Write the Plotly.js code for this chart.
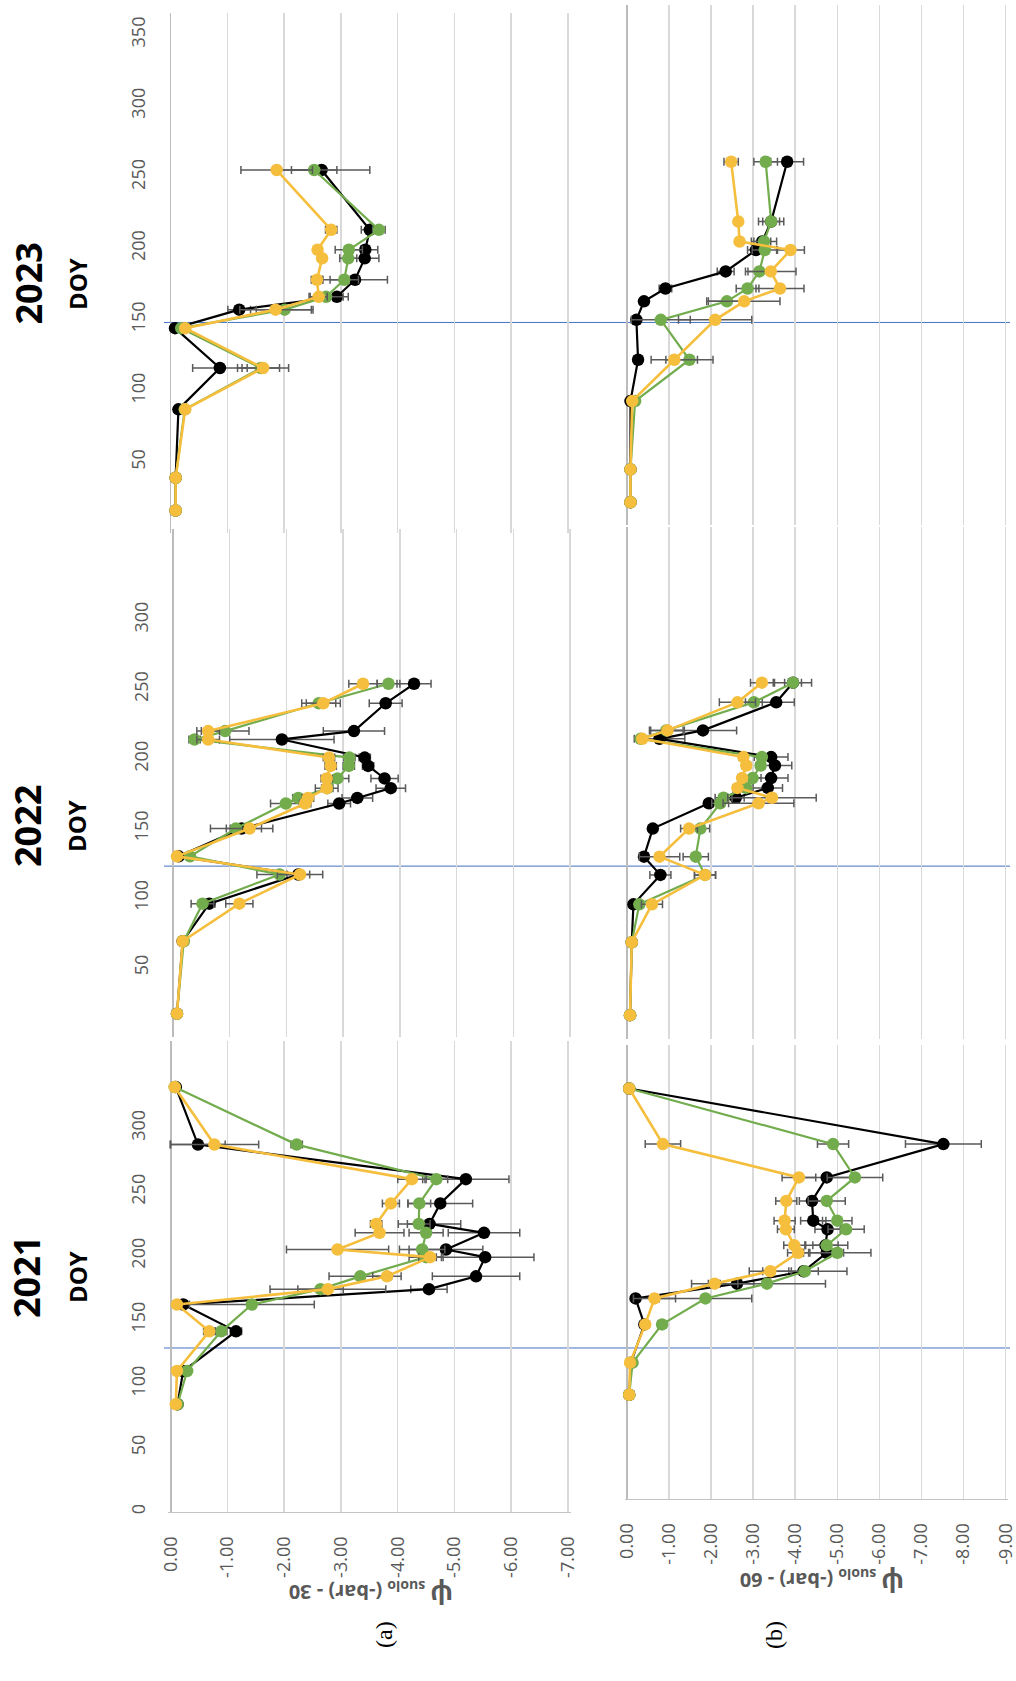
<!DOCTYPE html>
<html>
<head>
<meta charset="utf-8">
<script src="https://cdn.plot.ly/plotly-3.0.1.min.js"></script>
<style>html,body{margin:0;padding:0;background:#fff;}#chart{width:1016px;height:1681px;}</style>
</head>
<body>
<div id="chart"></div>
<script>
// ---------------- DATA ----------------
// Sampling dates (day of year)
const DOY_2023 = [16, 39, 87, 116, 144, 157, 166, 178, 193, 199, 213, 255];
const DOY_2022 = [17, 69, 96, 117, 130, 150, 168, 172, 179, 186, 195, 201, 214, 220, 240, 254];
const DOY_2021 = [84, 110, 141, 162, 174, 184, 199, 205, 218, 225, 241, 260, 287, 332];

// Soil water potential at 30 cm (bar), panel (a)
const PSI30_2023_BLACK  = [-0.09, -0.09, -0.14, -0.87, -0.08, -1.21, -2.93, -3.25, -3.42, -3.43, -3.51, -2.66];
const PSI30_2023_GREEN  = [-0.09, -0.09, -0.25, -1.59, -0.19, -2.01, -2.74, -3.06, -3.13, -3.14, -3.67, -2.53];
const PSI30_2023_YELLOW = [-0.09, -0.09, -0.26, -1.63, -0.26, -1.85, -2.61, -2.58, -2.67, -2.59, -2.83, -1.87];
const ERR30_2023_BLACK  = [0, 0, 0.05, 0.48, 0.03, 0.20, 0.20, 0.57, 0.25, 0.22, 0.15, 0.85];
const ERR30_2023_GREEN  = [0, 0, 0.05, 0.33, 0.03, 0.50, 0.30, 0.25, 0.15, 0.24, 0.11, 0.40];
const ERR30_2023_YELLOW = [0, 0, 0.05, 0.45, 0.03, 0.63, 0.15, 0.10, 0.05, 0.05, 0.10, 0.63];

const PSI30_2022_BLACK  = [-0.07, -0.17, -0.64, -2.21, -0.10, -1.21, -2.93, -3.25, -3.84, -3.73, -3.44, -3.38, -1.92, -3.19, -3.75, -4.25];
const PSI30_2022_GREEN  = [-0.07, -0.19, -0.52, -1.88, -0.30, -1.11, -1.99, -2.21, -2.72, -2.90, -3.10, -3.11, -0.38, -0.92, -2.57, -3.80];
const PSI30_2022_YELLOW = [-0.07, -0.17, -1.17, -2.24, -0.07, -1.35, -2.33, -2.38, -2.71, -2.71, -2.78, -2.75, -0.62, -0.62, -2.65, -3.35];
const ERR30_2022_BLACK  = [0, 0.05, 0.10, 0.20, 0.03, 0.20, 0.20, 0.27, 0.26, 0.24, 0.10, 0.10, 0.92, 0.54, 0.29, 0.30];
const ERR30_2022_GREEN  = [0, 0.03, 0.20, 0.40, 0.05, 0.45, 0.27, 0.10, 0.10, 0.20, 0.10, 0.10, 0.10, 0.42, 0.30, 0.20];
const ERR30_2022_YELLOW = [0, 0.03, 0.24, 0.40, 0.03, 0.41, 0.10, 0.10, 0.20, 0.10, 0.10, 0.10, 0.20, 0.20, 0.30, 0.25];

const PSI30_2021_BLACK  = [-0.12, -0.22, -1.15, -0.22, -4.55, -5.38, -5.54, -4.85, -5.52, -4.56, -4.75, -5.20, -0.48, -0.09];
const PSI30_2021_GREEN  = [-0.12, -0.29, -0.89, -1.43, -2.64, -3.34, -4.50, -4.43, -4.50, -4.37, -4.38, -4.68, -2.22, -0.07];
const PSI30_2021_YELLOW = [-0.09, -0.11, -0.68, -0.11, -2.77, -3.81, -4.57, -2.94, -3.68, -3.62, -3.88, -4.25, -0.77, -0.07];
const ERR30_2021_BLACK  = [0, 0.05, 0.10, 0.05, 0.32, 0.77, 0.86, 0.65, 0.63, 0.55, 0.57, 0.76, 0.48, 0];
const ERR30_2021_GREEN  = [0, 0.05, 0.10, 1.10, 0.40, 0.55, 0.30, 0.40, 0.30, 0.20, 0.20, 0.20, 0.10, 0];
const ERR30_2021_YELLOW = [0, 0.05, 0.10, 0.05, 1.02, 0.25, 0.20, 0.90, 0.43, 0.10, 0.15, 0.25, 0.78, 0];

// Soil water potential at 60 cm (bar), panel (b)
const PSI60_2023_BLACK  = [-0.09, -0.09, -0.09, -0.27, -0.23, -0.41, -0.92, -2.35, -3.07, -3.22, -3.43, -3.81];
const PSI60_2023_GREEN  = [-0.09, -0.09, -0.20, -1.49, -0.81, -2.38, -2.87, -3.15, -3.28, -3.26, -3.43, -3.30];
const PSI60_2023_YELLOW = [-0.09, -0.09, -0.13, -1.13, -2.10, -2.79, -3.64, -3.42, -3.89, -2.68, -2.65, -2.48];
const ERR60_2023_BLACK  = [0, 0, 0.03, 0.05, 0.05, 0.05, 0.15, 0.20, 0.20, 0.20, 0.20, 0.39];
const ERR60_2023_GREEN  = [0, 0, 0.03, 0.56, 0.70, 0.48, 0.27, 0.27, 0.30, 0.30, 0.30, 0.28];
const ERR60_2023_YELLOW = [0, 0, 0.03, 0.55, 0.87, 0.85, 0.57, 0.60, 0.33, 0.05, 0.05, 0.17];

const PSI60_2022_BLACK  = [-0.08, -0.12, -0.16, -0.80, -0.41, -0.62, -1.95, -2.59, -3.35, -3.43, -3.52, -3.43, -0.78, -1.81, -3.55, -3.95];
const PSI60_2022_GREEN  = [-0.08, -0.12, -0.30, -1.86, -1.64, -1.75, -2.22, -2.30, -2.84, -2.99, -3.18, -3.21, -0.33, -0.94, -3.02, -3.95];
const PSI60_2022_YELLOW = [-0.08, -0.12, -0.60, -1.86, -0.78, -1.48, -3.13, -3.45, -2.63, -2.74, -2.84, -2.77, -0.37, -0.97, -2.63, -3.21];
const ERR60_2022_BLACK  = [0, 0, 0.05, 0.25, 0.10, 0.05, 0.10, 0.20, 0.35, 0.40, 0.40, 0.40, 0.60, 0.80, 0.43, 0.20];
const ERR60_2022_GREEN  = [0, 0, 0.05, 0.25, 0.30, 0.22, 0.20, 0.20, 0.10, 0.20, 0.10, 0.10, 0.05, 0.40, 0.20, 0.44];
const ERR60_2022_YELLOW = [0, 0, 0.25, 0.25, 0.48, 0.20, 0.84, 1.05, 0.10, 0.10, 0.10, 0.10, 0.05, 0.40, 0.43, 0.27];

const PSI60_2021_BLACK  = [-0.06, -0.10, -0.42, -0.21, -2.62, -4.20, -4.75, -4.72, -4.77, -4.43, -4.40, -4.75, -7.52, -0.06];
const PSI60_2021_GREEN  = [-0.06, -0.14, -0.84, -1.87, -3.33, -4.23, -5.00, -4.75, -5.21, -5.00, -4.75, -5.42, -4.90, -0.06];
const PSI60_2021_YELLOW = [-0.06, -0.08, -0.44, -0.66, -2.09, -3.41, -4.07, -3.98, -3.78, -3.75, -3.79, -4.09, -0.86, -0.06];
const ERR60_2021_BLACK  = [0, 0.03, 0.10, 0.05, 0.40, 0.35, 0.40, 0.30, 0.30, 0.30, 0.30, 0.60, 0.90, 0];
const ERR60_2021_GREEN  = [0, 0.03, 0.10, 1.10, 1.39, 1.00, 0.80, 0.50, 0.43, 0.35, 0.44, 0.66, 0.37, 0];
const ERR60_2021_YELLOW = [0, 0.03, 0.10, 0.50, 0.55, 0.50, 0.25, 0.25, 0.20, 0.25, 0.25, 0.40, 0.42, 0];

// Reference DOY marked by the blue horizontal line, per year
const MARK_DOY_2023 = 148;
const MARK_DOY_2022 = 123;
const MARK_DOY_2021 = 128;

// Tick values and labels
const PSI30_TICKS  = [0, -1, -2, -3, -4, -5, -6, -7];
const PSI30_LABELS = ["0.00", "-1.00", "-2.00", "-3.00", "-4.00", "-5.00", "-6.00", "-7.00"];
const PSI60_TICKS  = [0, -1, -2, -3, -4, -5, -6, -7, -8, -9];
const PSI60_LABELS = ["0.00", "-1.00", "-2.00", "-3.00", "-4.00", "-5.00", "-6.00", "-7.00", "-8.00", "-9.00"];
const DOY_TICKS_2023 = [50, 100, 150, 200, 250, 300, 350];
const DOY_TICKS_2022 = [50, 100, 150, 200, 250, 300];
const DOY_TICKS_2021 = [0, 50, 100, 150, 200, 250, 300];

const YEARS = ["2023", "2022", "2021"];
const DOY_TITLE = "DOY";
const TITLE_A = "<b><span style=\"font-size:27px\">ψ</span> <sub>suolo</sub> (-bar) - 30</b>";
const TITLE_B = "<b><span style=\"font-size:27px\">ψ</span> <sub>suolo</sub> (-bar) - 60</b>";
const LABEL_A = "(a)";
const LABEL_B = "(b)";

// ---------------- LAYOUT HELPERS ----------------
const W = 1016, H = 1681;
const fx = p => p / W;
const fy = p => 1 - p / H;

const COLORS = {black: '#000000', green: '#72AC4D', yellow: '#F5BE3D'};
const ERRCOL = '#5a5a5a';

const PAD = 0.05;
const panels = [
  {xa:'x',  ya:'y',  psiTicks:PSI30_TICKS, psiLabels:PSI30_LABELS, psiMin:-7, xpx:[170.5,568],  ypx:[13.3,533.3],  doyMax:365, doyTicks:DOY_TICKS_2023, showDoy:true,  showPsi:false,
   doy:DOY_2023, s:[PSI30_2023_BLACK,PSI30_2023_GREEN,PSI30_2023_YELLOW], e:[ERR30_2023_BLACK,ERR30_2023_GREEN,ERR30_2023_YELLOW]},
  {xa:'x2', ya:'y2', psiTicks:PSI60_TICKS, psiLabels:PSI60_LABELS, psiMin:-9, xpx:[626.7,1005.7], ypx:[5,525],      doyMax:365, doyTicks:DOY_TICKS_2023, showDoy:false, showPsi:false,
   doy:DOY_2023, s:[PSI60_2023_BLACK,PSI60_2023_GREEN,PSI60_2023_YELLOW], e:[ERR60_2023_BLACK,ERR60_2023_GREEN,ERR60_2023_YELLOW]},
  {xa:'x3', ya:'y3', psiTicks:PSI30_TICKS, psiLabels:PSI30_LABELS, psiMin:-7, xpx:[173,570],    ypx:[529.3,1037.3], doyMax:365, doyTicks:DOY_TICKS_2022, showDoy:true,  showPsi:false,
   doy:DOY_2022, s:[PSI30_2022_BLACK,PSI30_2022_GREEN,PSI30_2022_YELLOW], e:[ERR30_2022_BLACK,ERR30_2022_GREEN,ERR30_2022_YELLOW]},
  {xa:'x4', ya:'y4', psiTicks:PSI60_TICKS, psiLabels:PSI60_LABELS, psiMin:-9, xpx:[626.7,1005.7], ypx:[527,1039],  doyMax:365, doyTicks:DOY_TICKS_2022, showDoy:false, showPsi:false,
   doy:DOY_2022, s:[PSI60_2022_BLACK,PSI60_2022_GREEN,PSI60_2022_YELLOW], e:[ERR60_2022_BLACK,ERR60_2022_GREEN,ERR60_2022_YELLOW]},
  {xa:'x5', ya:'y5', psiTicks:PSI30_TICKS, psiLabels:PSI30_LABELS, psiMin:-7, xpx:[170.7,568],  ypx:[1041,1511.7],  doyMax:368, doyTicks:DOY_TICKS_2021, showDoy:true,  showPsi:true,
   doy:DOY_2021, s:[PSI30_2021_BLACK,PSI30_2021_GREEN,PSI30_2021_YELLOW], e:[ERR30_2021_BLACK,ERR30_2021_GREEN,ERR30_2021_YELLOW]},
  {xa:'x6', ya:'y6', psiTicks:PSI60_TICKS, psiLabels:PSI60_LABELS, psiMin:-9, xpx:[626.7,1005.7], ypx:[1045.3,1498.5], doyMax:367, doyTicks:DOY_TICKS_2021, showDoy:false, showPsi:true,
   doy:DOY_2021, s:[PSI60_2021_BLACK,PSI60_2021_GREEN,PSI60_2021_YELLOW], e:[ERR60_2021_BLACK,ERR60_2021_GREEN,ERR60_2021_YELLOW]}
];

const traces = [];
const layout = {
  width: W, height: H,
  margin: {l:0, r:0, t:0, b:0},
  paper_bgcolor: '#ffffff',
  plot_bgcolor: 'rgba(0,0,0,0)',
  showlegend: false,
  font: {family: 'Open Sans, Liberation Sans, sans-serif', color: '#595959'},
  shapes: [],
  annotations: []
};

const seriesCols = [COLORS.black, COLORS.green, COLORS.yellow];
const seriesLW = [2.2, 2.2, 2.6];

panels.forEach(p => {
  const scale = (p.xpx[1] - p.xpx[0]) / (-p.psiMin);
  const x0 = p.xpx[0] - PAD * scale, x1 = p.xpx[1] + PAD * scale;
  const xKey = p.xa === 'x' ? 'xaxis' : 'xaxis' + p.xa.slice(1);
  const yKey = p.ya === 'y' ? 'yaxis' : 'yaxis' + p.ya.slice(1);
  layout[xKey] = {
    domain: [fx(x0), fx(x1)],
    range: [PAD, p.psiMin - PAD],
    anchor: p.ya,
    tickmode: 'array', tickvals: p.psiTicks, ticktext: p.psiLabels,
    showgrid: true, gridcolor: '#d9d9d9', gridwidth: 1.5,
    zeroline: true, zerolinecolor: '#bcbcbc', zerolinewidth: 1.6,
    showline: p.showPsi, linecolor: '#c4c4c4', linewidth: 1.6,
    ticks: '', showticklabels: p.showPsi, tickangle: -90,
    ticklabelstandoff: 16, ticklabeloverflow: 'allow',
    tickfont: {family: 'Open Sans', size: 18, color: '#595959'},
    fixedrange: true
  };
  layout[yKey] = {
    domain: [fy(p.ypx[1]), fy(p.ypx[0])],
    range: [0, p.doyMax],
    anchor: p.xa,
    tickmode: 'array', tickvals: p.doyTicks,
    showgrid: false, zeroline: false, showline: false,
    ticks: '', showticklabels: p.showDoy, tickangle: -90,
    ticklabelstandoff: 18, ticklabeloverflow: 'allow',
    tickfont: {family: 'Open Sans', size: 18, color: '#595959'},
    fixedrange: true
  };
  for (let k = 0; k < 3; k++) {
    traces.push({
      type: 'scatter', mode: 'lines+markers',
      x: p.s[k], y: p.doy,
      xaxis: p.xa, yaxis: p.ya,
      line: {color: seriesCols[k], width: seriesLW[k]},
      marker: {color: seriesCols[k], size: 12.5},
      error_x: {type: 'data', array: p.e[k], visible: true, color: ERRCOL, thickness: 1.5, width: 4},
      cliponaxis: false,
      hoverinfo: 'x+y'
    });
  }
});

// blue reference lines spanning both panels of each row
[[ 'y', MARK_DOY_2023 ], [ 'y3', MARK_DOY_2022 ], [ 'y5', MARK_DOY_2021 ]].forEach(([ya, d]) => {
  layout.shapes.push({type: 'line', xref: 'paper', yref: ya, x0: fx(164), x1: fx(1010), y0: d, y1: d,
    line: {color: '#4472C4', width: 1}, layer: 'below'});
});

// year and DOY titles
const yearPos = [[27.5, 284], [28, 826], [26, 1277]];
YEARS.forEach((yr, i) => {
  layout.annotations.push({text: '<b>' + yr + '</b>', xref: 'paper', yref: 'paper', x: fx(yearPos[i][0]), y: fy(yearPos[i][1]),
    showarrow: false, textangle: -90, xanchor: 'center', yanchor: 'middle',
    font: {family: 'Open Sans', size: 36, color: '#000000'}});
  layout.annotations.push({text: '<b>' + DOY_TITLE + '</b>', xref: 'paper', yref: 'paper', x: fx(77), y: fy(yearPos[i][1]),
    showarrow: false, textangle: -90, xanchor: 'center', yanchor: 'middle',
    font: {family: 'Open Sans', size: 24, color: '#000000'}});
});

// axis titles (upside down) and panel labels
layout.annotations.push({text: TITLE_A, xref: 'paper', yref: 'paper', x: fx(371), y: fy(1596), showarrow: false,
  textangle: 180, xanchor: 'center', yanchor: 'middle', font: {family: 'Open Sans', size: 20, color: '#595959'}});
layout.annotations.push({text: TITLE_B, xref: 'paper', yref: 'paper', x: fx(822), y: fy(1584), showarrow: false,
  textangle: 180, xanchor: 'center', yanchor: 'middle', font: {family: 'Open Sans', size: 20, color: '#595959'}});
layout.annotations.push({text: LABEL_A, xref: 'paper', yref: 'paper', x: fx(384), y: fy(1635), showarrow: false,
  textangle: -90, xanchor: 'center', yanchor: 'middle', font: {family: 'Liberation Serif', size: 24, color: '#000000'}});
layout.annotations.push({text: LABEL_B, xref: 'paper', yref: 'paper', x: fx(774), y: fy(1635), showarrow: false,
  textangle: -90, xanchor: 'center', yanchor: 'middle', font: {family: 'Liberation Serif', size: 24, color: '#000000'}});

Plotly.newPlot('chart', traces, layout, {staticPlot: true, displayModeBar: false});
</script>
</body>
</html>
